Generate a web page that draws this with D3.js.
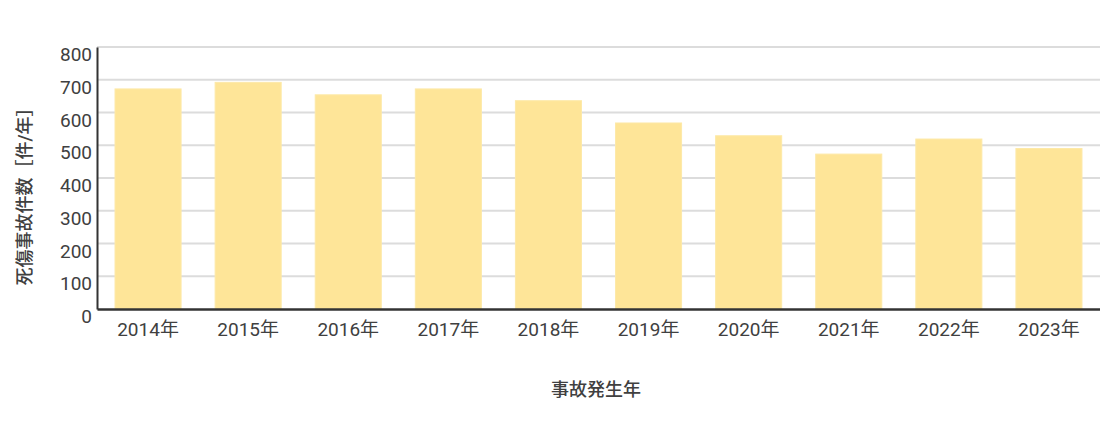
<!DOCTYPE html>
<html><head><meta charset="utf-8">
<script src="https://cdn.jsdelivr.net/npm/d3@7/dist/d3.min.js"></script>
<style>body{margin:0;background:#fff;} text{font-family:"Roboto","Noto Sans CJK JP",sans-serif;fill:#404040;}</style>
</head><body><svg id="c" width="1100" height="430"></svg>
<script>
const categories = ["2014年","2015年","2016年","2017年","2018年","2019年","2020年","2021年","2022年","2023年"];
const values = [672, 692, 654, 672, 636, 568, 529, 473, 519, 490];
const yTicks = [0,100,200,300,400,500,600,700,800];
const yTitle = "死傷事故件数［件/年］";
const xTitle = "事故発生年";

const svg = d3.select("#c");
const m = {left:97, right:1100, top:47, bottom:309};
const x = d3.scaleBand().domain(categories).range([m.left, m.right]).paddingInner(0.34).paddingOuter(0.18);
const y = d3.scaleLinear().domain([0,800]).range([m.bottom, m.top]);

// grid
svg.append("g").selectAll("line").data(yTicks.filter(d=>d>0)).join("line")
  .attr("x1", m.left).attr("x2", m.right).attr("y1", d=>y(d)).attr("y2", d=>y(d))
  .attr("stroke", "#dcdcdc").attr("stroke-width", 2);

// bars
svg.append("g").selectAll("rect").data(values).join("rect")
  .attr("x", (d,i)=>x(categories[i])).attr("width", x.bandwidth())
  .attr("y", d=>y(d)).attr("height", d=>y(0)-y(d))
  .attr("fill", "#fee598").attr("stroke", "#fde9a8").attr("stroke-width", 1);

// y axis
const ya = svg.append("g").attr("transform", `translate(${m.left},0)`)
  .call(d3.axisLeft(y).tickValues(yTicks).tickSize(0).tickPadding(5));
ya.select(".domain").attr("stroke", "#333").attr("stroke-width", 2);
ya.selectAll("text").style("font-size", "19px").attr("dy", "0.72em").attr("fill", "#404040");

// x axis
const xa = svg.append("g").attr("transform", `translate(0,${m.bottom})`)
  .call(d3.axisBottom(x).tickSize(0).tickPadding(14));
xa.select(".domain").attr("stroke", "#333").attr("stroke-width", 2.5);
xa.selectAll("text").style("font-size", "19px").attr("fill", "#404040");

svg.append("text").attr("transform", "translate(31,192) rotate(-90)")
  .attr("text-anchor", "middle").style("font-size", "18px").style("font-weight", 500).text(yTitle);
svg.append("text").attr("x", 596).attr("y", 396)
  .attr("text-anchor", "middle").style("font-size", "18px").style("font-weight", 500).text(xTitle);
</script></body></html>
